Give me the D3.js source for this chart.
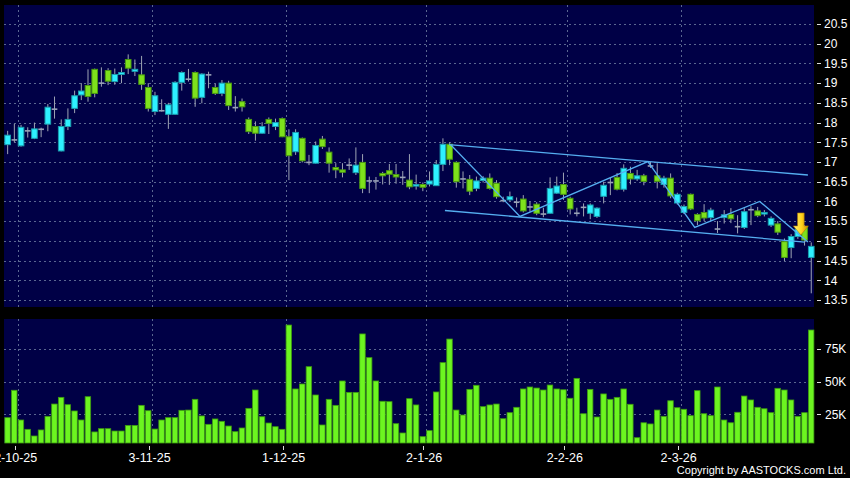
<!DOCTYPE html>
<html>
  <head>
    <meta charset="utf-8">
    <style type="text/css">
      body { margin: 0; background: #000; overflow: hidden; }
      text { font-family: "Liberation Sans", Arial, sans-serif; fill: #fff; }
    </style>
    <script src="https://d3js.org/d3.v7.min.js"></script>
  </head>
  <body>
    <svg width="850" height="478"></svg>
    <script>
      // daily candles, oldest first (121 sessions)
      const opens = [17.44,17.58,17.41,17.81,17.6,17.85,17.96,18.36,17.28,17.9,
        18.36,18.7,18.94,19.35,19.02,19.32,19.04,19.22,19.6,19.3,
        19.21,18.89,18.28,18.32,18.21,18.21,19.02,19.12,19.27,18.64,
        19.23,18.89,18.74,19.0,18.4,18.53,18.08,17.9,17.73,18.08,
        17.9,18.1,17.64,17.26,17.6,17.01,16.97,17.58,17.25,16.86,
        16.8,16.94,16.73,16.99,16.54,16.54,16.71,16.78,16.68,16.63,
        16.54,16.39,16.43,16.44,16.4,16.94,17.45,16.99,16.59,16.56,
        16.33,16.53,16.59,16.46,16.04,16.04,16.0,16.06,15.88,15.93,
        15.7,15.7,16.21,16.43,16.08,15.72,15.87,15.7,15.62,16.13,
        16.5,16.61,16.31,16.71,16.57,16.65,16.92,16.65,16.43,16.59,
        15.96,15.72,16.18,15.67,15.72,15.59,15.32,15.59,15.67,15.38,
        15.34,15.81,15.76,15.69,15.4,15.43,14.98,14.83,15.11,15.36,
        14.58];
      const highs = [17.79,17.97,17.94,17.88,18.0,17.87,18.47,18.66,18.08,18.36,
        18.81,19.0,19.35,19.37,19.4,19.38,19.37,19.4,19.73,19.6,
        19.69,19.0,18.78,18.59,18.5,19.05,19.3,19.36,19.3,19.25,
        19.29,18.98,19.08,19.06,18.67,18.61,18.13,18.03,18.01,18.13,
        18.1,18.13,17.83,17.83,17.62,17.18,17.52,17.66,17.37,16.97,
        16.97,17.09,17.37,17.2,16.63,16.62,16.75,16.95,16.95,16.77,
        17.2,16.68,16.48,16.76,17.05,17.6,17.5,17.02,16.76,16.67,
        16.63,16.64,16.71,16.54,16.12,16.25,16.1,16.16,15.99,15.98,
        15.84,16.61,16.63,16.73,16.12,15.84,15.95,15.95,15.85,16.5,
        16.61,16.72,16.94,16.88,16.8,16.7,17.0,16.97,16.65,16.71,
        16.22,15.92,16.2,15.7,15.93,15.84,15.5,15.78,15.83,15.65,
        15.83,15.88,15.86,15.78,15.62,15.5,15.06,15.17,15.35,15.4,
        14.96];
      const lows = [17.2,17.5,17.39,17.62,17.58,17.63,17.78,18.1,17.27,17.81,
        18.24,18.57,18.53,18.64,18.91,18.95,18.96,19.0,19.23,19.18,
        18.83,18.28,18.19,18.28,17.84,18.2,18.81,19.04,18.4,18.49,
        18.87,18.7,18.67,18.32,18.28,18.28,17.71,17.54,17.72,17.71,
        17.81,17.63,16.54,17.18,16.99,16.92,16.96,17.33,16.73,16.59,
        16.61,16.8,16.67,16.21,16.21,16.3,16.43,16.42,16.45,16.42,
        16.31,16.3,16.26,16.38,16.4,16.77,16.92,16.35,16.33,16.16,
        16.26,16.48,16.3,16.07,15.98,16.0,15.85,15.72,15.74,15.65,
        15.6,15.69,16.19,16.04,15.67,15.62,15.62,15.55,15.58,15.95,
        16.16,16.28,16.25,16.43,16.52,16.41,16.85,16.33,16.35,16.08,
        15.92,15.68,15.78,15.4,15.5,15.5,15.2,15.44,15.45,15.19,
        15.3,15.4,15.6,15.62,15.35,15.15,14.49,14.56,15.05,14.88,
        13.67];
      const closes = [17.68,17.58,17.88,17.81,17.84,17.85,18.39,18.36,17.9,18.08,
        18.68,18.8,18.66,18.74,19.02,19.05,19.22,19.27,19.38,19.35,
        18.97,18.36,18.68,18.32,18.45,19.02,19.27,19.12,18.62,19.23,
        19.23,18.74,19.0,18.43,18.4,18.4,17.77,17.73,17.9,17.98,
        18.0,17.64,17.16,17.75,17.03,17.01,17.42,17.39,16.97,16.8,
        16.74,16.94,16.92,16.33,16.54,16.54,16.65,16.69,16.62,16.63,
        16.37,16.43,16.36,16.52,16.94,17.45,17.07,16.5,16.59,16.26,
        16.52,16.59,16.33,16.12,16.04,16.12,16.0,15.76,15.88,15.7,
        15.7,16.33,16.39,16.18,15.81,15.72,15.87,15.91,15.83,16.41,
        16.5,16.31,16.84,16.57,16.65,16.51,16.92,16.51,16.59,16.14,
        16.18,15.87,15.81,15.51,15.58,15.78,15.32,15.66,15.56,15.38,
        15.74,15.81,15.64,15.72,15.57,15.22,14.58,15.11,15.3,15.02,
        14.86];
      const volumes = [22.4,43.3,20.6,13.5,8.4,13,23.4,32.8,37.9,32.3,
        27.5,20.6,38.4,11.5,14,14,12.2,12.2,16.5,16.5,
        31.8,27.7,13.7,20.6,22.4,22.4,28,28.2,36.4,23.7,
        17.3,21.4,19.6,16,11.7,14.5,29.5,43.5,23.1,18.3,
        15.5,13.5,93.1,44.3,48.1,61.3,39.7,16.8,36.4,31.8,
        50.4,41.7,41.7,86.3,68.2,50.4,34.9,34.6,17.8,10.7,
        36.9,32.1,7.9,12.5,42,64.4,82.4,28.2,24.4,44,
        47.1,30.8,32.1,32.8,21.6,26.2,30.3,44.3,45.8,45,
        43.5,47.3,44.3,43.7,37.2,52.4,25.4,44,22.9,40.5,
        36.4,37.9,44.3,32.6,7.1,18.5,17.6,28.2,23.4,35.3,
        30,28.8,23.9,43,25.4,23.9,45.8,20.6,18.5,26.5,
        38.9,35.9,30.3,29.2,26.2,44.8,43.5,35.9,23.4,26.2,
        89.3]; // thousands of shares

      // month markers: label and the session index where the month starts
      const dateLabels = ['2-10-25', '3-11-25', '1-12-25', '2-1-26', '2-2-26', '2-3-26'];
      const dateIndex = [2, 22, 42, 63, 84, 101];
      const priceTicks = d3.range(13.5, 20.51, 0.5);
      const volumeTicks = [25, 50, 75];

      // drawn trend lines, [session index, price]
      const channelTop = [[65.9, 17.44], [119.5, 16.67]];
      const channelBottom = [[65.3, 15.77], [119.05, 14.97]];
      const zigzag = [[66.2, 17.43], [76.5, 15.62], [95.6, 17.01], [102.6, 15.34], [112.3, 16.0], [119.5, 14.97]];
      const signalArrow = [118.45, 15.15];

      const svg = d3.select('svg');
      const price = { left: 4, right: 814, top: 5, bottom: 307 };
      const vol = { top: 319, bottom: 443 };
      const n = closes.length;

      const x = d3.scaleBand().domain(d3.range(n)).range([4.3, 814.6]);
      const xk = d3.scaleLinear().domain([-0.5, n - 0.5]).range([4.3, 814.6]);
      const y = d3.scaleLinear().domain([13.5, 20.5]).range([300, 24]);
      const yv = d3.scaleLinear().domain([0, 100]).range([447, 316]);
      const bw = x.bandwidth();

      svg.append('rect').attr('width', 850).attr('height', 478).attr('fill', '#000');
      svg.append('rect')
        .attr('x', price.left).attr('y', price.top)
        .attr('width', price.right - price.left).attr('height', price.bottom - price.top)
        .attr('fill', '#000046');
      svg.append('rect')
        .attr('x', price.left).attr('y', vol.top)
        .attr('width', price.right - price.left).attr('height', vol.bottom - vol.top)
        .attr('fill', '#000046');

      const grid = svg.append('g')
        .attr('stroke', '#5a6690').attr('stroke-width', 1).attr('stroke-dasharray', '2,3');
      grid.selectAll('.hp').data(priceTicks).enter().append('line')
        .attr('x1', price.left).attr('x2', price.right)
        .attr('y1', d => Math.round(y(d)) + 0.5).attr('y2', d => Math.round(y(d)) + 0.5);
      grid.selectAll('.hv').data(volumeTicks).enter().append('line')
        .attr('x1', price.left).attr('x2', price.right)
        .attr('y1', d => Math.round(yv(d)) + 0.5).attr('y2', d => Math.round(yv(d)) + 0.5);
      grid.selectAll('.vp').data(dateIndex).enter().append('line')
        .attr('x1', d => Math.round(x(d)) + 0.5).attr('x2', d => Math.round(x(d)) + 0.5)
        .attr('y1', price.top).attr('y2', price.bottom);
      grid.selectAll('.vv').data(dateIndex).enter().append('line')
        .attr('x1', d => Math.round(x(d)) + 0.5).attr('x2', d => Math.round(x(d)) + 0.5)
        .attr('y1', vol.top).attr('y2', vol.bottom);

      // candles
      const idx = d3.range(n);
      const cx = i => x(i) + bw / 2;
      const candles = svg.append('g');
      candles.selectAll('.wick').data(idx).enter().append('line')
        .attr('x1', cx).attr('x2', cx)
        .attr('y1', i => y(highs[i])).attr('y2', i => y(lows[i]))
        .attr('stroke', '#9ea4b4').attr('stroke-width', 1);
      candles.selectAll('.body').data(idx).enter().append('rect')
        .attr('x', i => cx(i) - bw * 0.42)
        .attr('width', bw * 0.84)
        .attr('y', i => y(Math.max(opens[i], closes[i])))
        .attr('height', i => Math.max(1.6, Math.abs(y(opens[i]) - y(closes[i]))))
        .attr('fill', i => closes[i] > opens[i] ? '#2ef0ff' : closes[i] < opens[i] ? '#7ee11c' : '#9aa3b8')
        .attr('stroke', i => closes[i] > opens[i] ? '#1a9fb0' : closes[i] < opens[i] ? '#4a9a10' : '#9aa3b8')
        .attr('stroke-width', i => closes[i] === opens[i] ? 0 : 1);

      // trend lines
      const line = d3.line().x(d => xk(d[0])).y(d => y(d[1]));
      svg.append('g').attr('fill', 'none').attr('stroke', '#55aef0').attr('stroke-width', 1.3)
        .selectAll('path').data([channelTop, channelBottom, zigzag]).enter().append('path')
        .attr('d', line);

      // signal arrow
      const grad = svg.append('defs').append('linearGradient').attr('id', 'arrowGrad')
        .attr('x1', '0%').attr('x2', '100%').attr('y1', '0%').attr('y2', '0%');
      grad.append('stop').attr('offset', '0%').attr('stop-color', '#fff37a');
      grad.append('stop').attr('offset', '55%').attr('stop-color', '#ffd21a');
      grad.append('stop').attr('offset', '100%').attr('stop-color', '#c98a00');
      const ax = xk(signalArrow[0]), ay = y(signalArrow[1]);
      svg.append('path')
        .attr('d', `M${ax - 3.3},${ay - 22} L${ax + 3.3},${ay - 22} L${ax + 3.3},${ay - 9} L${ax + 7.5},${ay - 9} L${ax},${ay} L${ax - 7.5},${ay - 9} L${ax - 3.3},${ay - 9} Z`)
        .attr('fill', 'url(#arrowGrad)').attr('stroke', '#b07a00').attr('stroke-width', 0.6);

      // volume bars
      svg.append('g').selectAll('rect').data(idx).enter().append('rect')
        .attr('x', i => x(i) + 0.5)
        .attr('width', bw - 1.2)
        .attr('y', i => yv(volumes[i]))
        .attr('height', i => vol.bottom - yv(volumes[i]))
        .attr('fill', '#6cf520').attr('stroke', '#3d9a10').attr('stroke-width', 0.8);

      // right axes
      const axis = svg.append('g');
      axis.selectAll('.pt').data(priceTicks).enter().append('line')
        .attr('x1', 817).attr('x2', 821)
        .attr('y1', d => Math.round(y(d)) + 0.5).attr('y2', d => Math.round(y(d)) + 0.5)
        .attr('stroke', '#ddd');
      axis.selectAll('.pl').data(priceTicks).enter().append('text')
        .attr('x', 824).attr('y', d => y(d)).attr('dy', '0.36em')
        .style('font-size', '12px')
        .text(d => d3.format('~g')(d));
      axis.selectAll('.vt').data(volumeTicks).enter().append('line')
        .attr('x1', 817).attr('x2', 821)
        .attr('y1', d => Math.round(yv(d)) + 0.5).attr('y2', d => Math.round(yv(d)) + 0.5)
        .attr('stroke', '#ddd');
      axis.selectAll('.vl').data(volumeTicks).enter().append('text')
        .attr('x', 825).attr('y', d => yv(d)).attr('dy', '0.36em')
        .style('font-size', '12px')
        .text(d => d + 'K');

      // date axis
      axis.selectAll('.dt').data(dateIndex).enter().append('line')
        .attr('x1', d => Math.round(x(d)) - 2.5).attr('x2', d => Math.round(x(d)) - 2.5)
        .attr('y1', 446).attr('y2', 450)
        .attr('stroke', '#ddd');
      axis.selectAll('.dl').data(dateLabels).enter().append('text')
        .attr('x', (d, i) => x(dateIndex[i]) - 2)
        .attr('y', 462)
        .attr('text-anchor', 'middle')
        .style('font-size', '12.5px')
        .text(d => d);

      svg.append('text')
        .attr('x', 846).attr('y', 474)
        .attr('text-anchor', 'end')
        .style('font-size', '11px')
        .text('Copyright by AASTOCKS.com Ltd.');
    </script>
  </body>
</html>
